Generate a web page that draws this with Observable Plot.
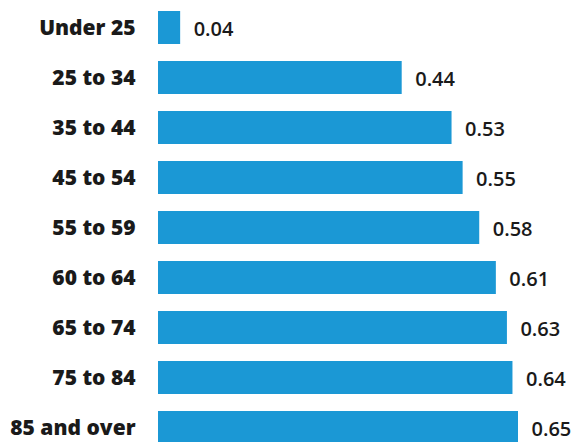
<!DOCTYPE html>
<html>
<head>
<meta charset="utf-8">
<script src="https://cdn.jsdelivr.net/npm/d3@7"></script>
<script src="https://cdn.jsdelivr.net/npm/@observablehq/plot@0.6"></script>
<style>
  html, body { margin: 0; padding: 0; background: #fff; overflow: hidden; }
</style>
</head>
<body>
<div id="chart"></div>
<script>
const categories = ["Under 25", "25 to 34", "35 to 44", "45 to 54", "55 to 59", "60 to 64", "65 to 74", "75 to 84", "85 and over"];
const values = [0.04, 0.44, 0.53, 0.55, 0.58, 0.61, 0.63, 0.64, 0.65];
const valueLabels = ["0.04", "0.44", "0.53", "0.55", "0.58", "0.61", "0.63", "0.64", "0.65"];

const data = categories.map((c, i) => ({category: c, value: values[i], label: valueLabels[i]}));

const chart = Plot.plot({
  width: 577,
  height: 442,
  marginLeft: 158,
  marginRight: 59,
  marginTop: 0,
  marginBottom: 0,
  style: {fontFamily: "'Open Sans', sans-serif", background: "#fff", overflow: "hidden"},
  x: {domain: [0, 0.65], axis: null},
  y: {domain: categories, range: [1.4, 453.65], paddingInner: 0.343, paddingOuter: 0.1716, axis: null},
  marks: [
    Plot.barX(data, {x: "value", y: "category", fill: "#1b98d5"}),
    Plot.text(data, {x: "value", y: "category", text: "label", textAnchor: "start", dx: 13, dy: 2, fontSize: 20, fill: "#1a1a1a", fontWeight: 600}),
    Plot.axisY({tickSize: 0, tickPadding: 23, fontSize: 21, fontWeight: 800, color: "#1a1a1a", label: null})
  ]
});
document.getElementById("chart").appendChild(chart);
</script>
</body>
</html>
